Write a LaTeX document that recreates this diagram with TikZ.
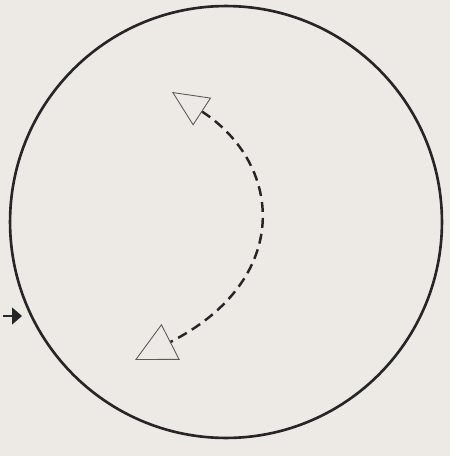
\documentclass[tikz,border=0pt]{standalone}
\usetikzlibrary{arrows.meta,calc}
\usepackage{xcolor}
\definecolor{scanPaper}{HTML}{EDEAE5}
\definecolor{scanInk}  {HTML}{262626}
\definecolor{scanFaint}{HTML}{5A5A5A}

\begin{document}
\begin{tikzpicture}[x=0.02cm, y=-0.02cm,
  rim/.style   ={draw=scanInk, line width=1.5pt},
  swirl/.style ={scanInk, line width=1.4pt, dash pattern=on 0.2cm off 0.12cm,
                 {Triangle[open, length=0.72cm, width=0.66cm, line width=0.5pt, scanFaint]}-{Triangle[open, length=0.8cm, width=0.8cm, line width=0.5pt, scanFaint]}},
  marker/.style={-{Triangle[length=0.2cm, width=0.34cm]}, line width=0.9pt, scanInk},
]

% paper and frame
\fill[scanPaper] (0,0) rectangle (450,456);
\useasboundingbox (0,0) rectangle (450,456);

% the disc
\coordinate (ctr) at (226,222);
\draw[rim] (ctr) circle[radius=4.32cm];

% rotation arrow
\coordinate (swTop) at (172,92);
\coordinate (swBot) at (135,360);
\draw[swirl] (swTop) .. controls (284,165) and (292,280) .. (swBot);

% small mark at the rim
\coordinate (mkA) at (3,316);
\coordinate (mkB) at (22,316);
\draw[marker] (mkA) -- (mkB);

\end{tikzpicture}
\end{document}
